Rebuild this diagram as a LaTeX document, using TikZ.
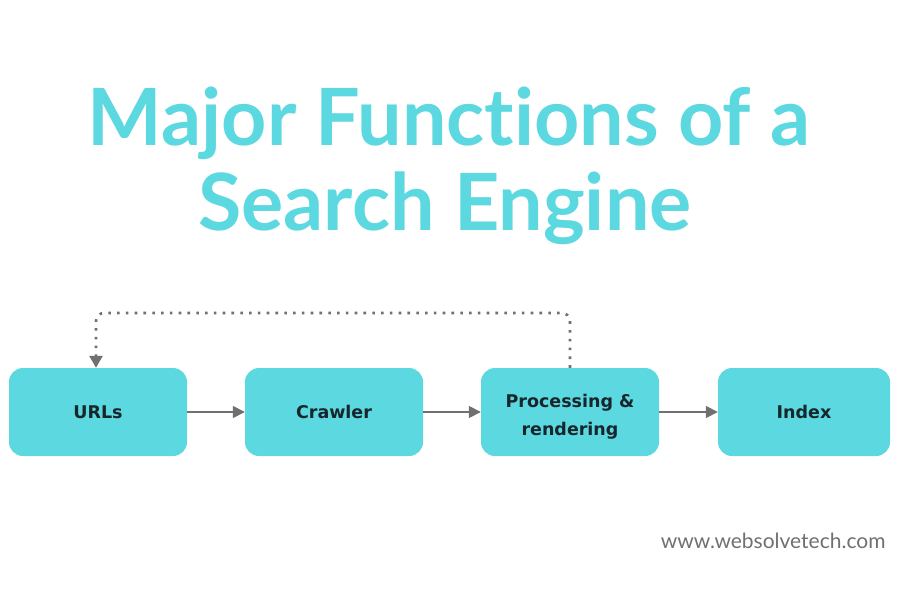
\documentclass[tikz,border=0pt]{standalone}
\usepackage{fontspec}
\setmainfont{Lato}[Ligatures={NoCommon,NoRare}]
\newfontfamily\boxfont{DejaVu Sans}
\usetikzlibrary{arrows.meta}
\definecolor{teal1}{HTML}{5CD8E0}
\definecolor{grayline}{HTML}{707070}
\definecolor{boxtext}{HTML}{16262B}
\tikzset{
  stepbox/.style={fill=teal1, draw=none, rounded corners=14pt, minimum width=178pt, minimum height=88pt, inner sep=0pt, align=center, font=\boxfont\bfseries\fontsize{17.5}{28}\selectfont, text=boxtext},
  flow/.style={draw=grayline, line width=1.6pt, -{Triangle[length=12pt,width=12pt]}},
  loopline/.style={draw=grayline, line width=2.6pt, dash pattern=on 2.6pt off 6.2pt, rounded corners=8pt, -{Triangle[length=12pt,width=13pt]}}
}
\begin{document}
\begin{tikzpicture}[x=1pt,y=-1pt]
\useasboundingbox (0,0) rectangle (900,600);
\fill[white] (0,0) rectangle (900,600);
\node[font=\bfseries\fontsize{79}{85}\selectfont, text=teal1, anchor=base] (t1) at (449,145) {Major Functions of a};
\node[font=\bfseries\fontsize{79}{85}\selectfont, text=teal1, anchor=base] (t2) at (445,230) {Search Engine};
\node[stepbox] (urls) at (98,412) {URLs};
\node[stepbox] (crawl) at (334,412) {Crawler};
\node[stepbox] (proc) at (570,412) {\rule{0pt}{22pt}Processing \&\\rendering};
\node[stepbox, minimum width=172pt] (idx) at (804,412) {Index};
\draw[flow] (urls.east) -- (crawl.west);
\draw[flow] (crawl.east) -- (proc.west);
\draw[flow] (proc.east) -- (idx.west);
\coordinate (c1) at (570,313);
\coordinate (c2) at (96,313);
\draw[loopline] (proc.north) -- (c1) -- (c2) -- (urls.north -| c2);
\node[font=\fontsize{21}{24}\selectfont, text=grayline, anchor=base east] (url) at (889,548) {www.websolvetech.com};
\end{tikzpicture}
\end{document}
